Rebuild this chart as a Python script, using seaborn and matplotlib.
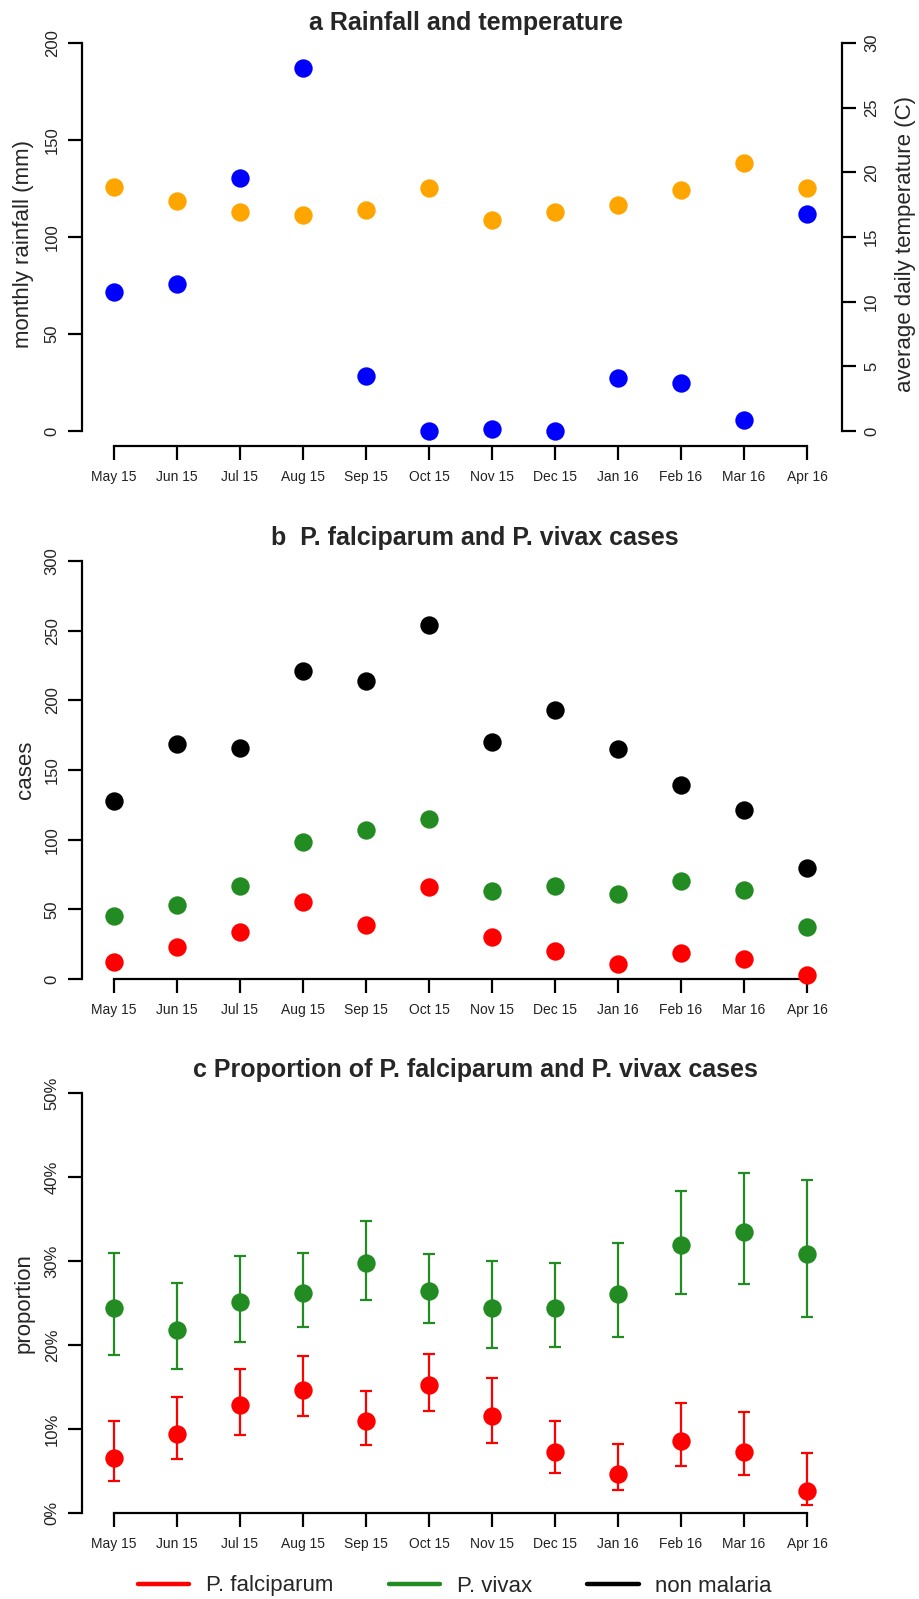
import numpy as np
import pandas as pd
import seaborn as sns
import matplotlib.pyplot as plt
from matplotlib.lines import Line2D

# months on the x axis
months = ["May 15", "Jun 15", "Jul 15", "Aug 15", "Sep 15", "Oct 15",
          "Nov 15", "Dec 15", "Jan 16", "Feb 16", "Mar 16", "Apr 16"]

# panel a: rainfall (mm) and temperature (C)
rainfall = [71.5, 76, 130.5, 187, 28.5, 0, 0.8, 0, 27.5, 24.5, 5.5, 112]
temperature = [18.9, 17.8, 16.9, 16.7, 17.1, 18.8, 16.3, 16.9, 17.5, 18.6, 20.7, 18.8]

# panel b: monthly case counts
falciparum_cases = [12, 23, 34, 55, 39, 66, 30, 20, 11, 19, 14, 3]
vivax_cases = [45, 53, 67, 98, 107, 115, 63, 67, 61, 70, 64, 37]
non_malaria_cases = [128, 169, 166, 221, 214, 254, 170, 193, 165, 139, 121, 80]

# panel c: proportions (%) with confidence intervals
falciparum_prop = [6.5, 9.4, 12.8, 14.7, 10.9, 15.2, 11.6, 7.3, 4.7, 8.6, 7.3, 2.6]
falciparum_lo = [3.8, 6.4, 9.3, 11.5, 8.1, 12.2, 8.3, 4.8, 2.7, 5.6, 4.5, 0.9]
falciparum_hi = [11.0, 13.8, 17.2, 18.7, 14.5, 18.9, 16.1, 11.0, 8.2, 13.1, 12.0, 7.1]
vivax_prop = [24.4, 21.8, 25.1, 26.2, 29.8, 26.4, 24.4, 24.4, 26.1, 31.9, 33.5, 30.8]
vivax_lo = [18.8, 17.1, 20.3, 22.1, 25.4, 22.6, 19.6, 19.8, 20.9, 26.1, 27.3, 23.3]
vivax_hi = [31.0, 27.4, 30.6, 30.9, 34.8, 30.8, 30.0, 29.8, 32.1, 38.3, 40.5, 39.6]

sns.set_theme(style="ticks")
plt.rcParams['font.family'] = ['Liberation Sans', 'DejaVu Sans']

W, H = 919, 1599
fig = plt.figure(figsize=(W / 100, H / 100), dpi=100)

x = np.arange(len(months))
xlim = (-0.508, 11.556)
dot = 175


def frame(top, axis_px):
    """axes rect from pixel positions (axis_px = y pixel of the x axis line)"""
    return [82 / W, 1 - axis_px / H, 760 / W, (axis_px - top) / H]


def style(ax, ymax, yticks, ylabels, ylabel, label_px):
    ax.set_xlim(*xlim)
    ax.set_xticks(x)
    ax.set_xticklabels(months, fontsize=10)
    ax.set_yticks(yticks)
    ax.set_yticklabels(ylabels, fontsize=12, rotation=90, va="center")
    ax.spines["left"].set_bounds(0, ymax)
    ax.spines["bottom"].set_bounds(0, 11)
    for s in ["left", "bottom"]:
        ax.spines[s].set_linewidth(1.6)
        ax.spines[s].set_color("black")
    for s in ["top", "right"]:
        ax.spines[s].set_visible(False)
    ax.tick_params(axis="both", direction="out", length=10, width=1.6,
                   color="black", labelcolor="#222222")
    ax.tick_params(axis="x", pad=7)
    ax.tick_params(axis="y", pad=6)
    ax.set_ylabel(ylabel, fontsize=16, va="center", ha="center")
    ax.yaxis.set_label_coords((label_px - 82) / 760, 0.5)
    ax.set_xlabel("")
    ax.grid(False)


# ---- panel a
ax_a = fig.add_axes(frame(43, 446))
ax_t = ax_a.twinx()
ax_a.set_ylim(-15 / 1.94, 200)
ax_t.set_ylim(-15 / 12.933, 30)
sns.scatterplot(x=x, y=temperature, ax=ax_t, color="#FFA500", s=dot,
                linewidth=0, clip_on=False, zorder=3)
sns.scatterplot(x=x, y=rainfall, ax=ax_a, color="#0000FF", s=dot,
                linewidth=0, clip_on=False, zorder=3)
style(ax_a, 200, [0, 50, 100, 150, 200], ["0", "50", "100", "150", "200"],
      "monthly rainfall (mm)", 23)
ax_t.set_xlim(*xlim)
for s in ["left", "bottom", "top"]:
    ax_t.spines[s].set_visible(False)
ax_t.spines["right"].set_bounds(0, 30)
ax_t.spines["right"].set_linewidth(1.6)
ax_t.spines["right"].set_color("black")
ax_t.set_yticks([0, 5, 10, 15, 20, 25, 30])
ax_t.set_yticklabels(["0", "5", "10", "15", "20", "25", "30"], fontsize=12,
                     rotation=90, va="center")
ax_t.tick_params(axis="y", direction="out", length=10, width=1.6, pad=6,
                 color="black", labelcolor="#222222")
ax_t.set_ylabel("average daily temperature (C)", fontsize=16,
                va="center", ha="center", rotation=90)
ax_t.yaxis.set_label_coords((905 - 82) / 760, 0.5)
ax_t.grid(False)
ax_a.set_zorder(ax_t.get_zorder() + 1)
ax_a.patch.set_visible(False)

# ---- panel b
ax_b = fig.add_axes(frame(561, 979))
ax_b.set_ylim(0, 300)
for vals, col in [(non_malaria_cases, "black"), (vivax_cases, "#228B22"),
                  (falciparum_cases, "#FF0000")]:
    sns.scatterplot(x=x, y=vals, ax=ax_b, color=col, s=dot, linewidth=0,
                    clip_on=False, zorder=3)
style(ax_b, 300, [0, 50, 100, 150, 200, 250, 300],
      ["0", "50", "100", "150", "200", "250", "300"], "cases", 25)

# ---- panel c
ax_c = fig.add_axes(frame(1093, 1513))
ax_c.set_ylim(0, 50)
for p, lo, hi, col in [(vivax_prop, vivax_lo, vivax_hi, "#228B22"),
                       (falciparum_prop, falciparum_lo, falciparum_hi, "#FF0000")]:
    p, lo, hi = np.array(p), np.array(lo), np.array(hi)
    ax_c.errorbar(x, p, yerr=[p - lo, hi - p], fmt="none", ecolor=col,
                  elinewidth=1.6, capsize=4.5, capthick=1.6, zorder=2,
                  clip_on=False)
    sns.scatterplot(x=x, y=p, ax=ax_c, color=col, s=dot, linewidth=0,
                    clip_on=False, zorder=3)
style(ax_c, 50, [0, 10, 20, 30, 40, 50],
      ["0%", "10%", "20%", "30%", "40%", "50%"], "proportion", 24)

# titles
fig.text(466 / W, 1 - 23 / H, "a Rainfall and temperature", ha="center",
         va="center", fontsize=18, fontweight="bold")
fig.text(475 / W, 1 - 538 / H, "b  P. falciparum and P. vivax cases",
         ha="center", va="center", fontsize=18, fontweight="bold")
fig.text(475 / W, 1 - 1070 / H, "c Proportion of P. falciparum and P. vivax cases",
         ha="center", va="center", fontsize=18, fontweight="bold")

# legend
handles = [Line2D([], [], color="#FF0000", lw=3.2),
           Line2D([], [], color="#228B22", lw=3.2),
           Line2D([], [], color="black", lw=3.2)]
fig.legend(handles, ["P. falciparum", "P. vivax", "non malaria"],
           loc="center", bbox_to_anchor=(455 / W, 1 - 1586 / H), ncol=3,
           frameon=False, fontsize=16, handlelength=2.3, handletextpad=0.75,
           columnspacing=2.5)

plt.savefig("out.png", dpi=100)
plt.close()
